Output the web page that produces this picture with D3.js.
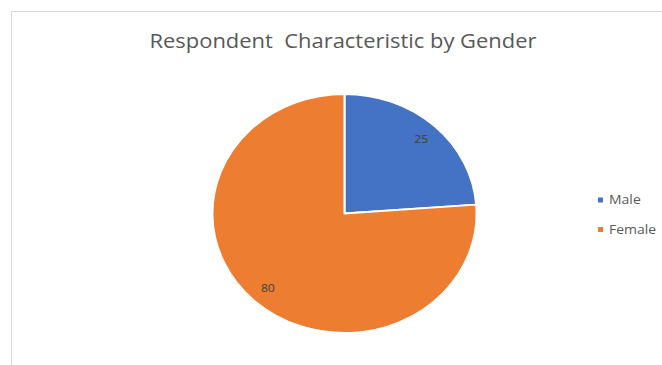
<!DOCTYPE html>
<html>
<head>
<meta charset="utf-8">
<script src="https://cdn.jsdelivr.net/npm/d3@7"></script>
<style>
  html, body { margin: 0; padding: 0; background: #ffffff; }
  svg { display: block; }
</style>
</head>
<body>
<svg id="chart" width="662" height="365"></svg>
<script>
const categories = ["Male", "Female"];
const values = [25, 80];
const colors = ["#4472C4", "#ED7D31"];
const title = "Respondent\u00A0 Characteristic by Gender";

const svg = d3.select("#chart");
const W = 662, H = 365;

// chart area border (cut off at right/bottom)
svg.append("rect")
  .attr("x", 11.5).attr("y", 11.5)
  .attr("width", W + 20).attr("height", H + 20)
  .attr("fill", "#ffffff")
  .attr("stroke", "#d9d9d9").attr("stroke-width", 1);

// title
svg.append("text")
  .attr("x", 343).attr("y", 48)
  .attr("text-anchor", "middle")
  .attr("font-family", "'Open Sans', sans-serif")
  .attr("font-size", 20)
  .attr("fill", "#595959")
  .attr("textLength", 387)
  .attr("lengthAdjust", "spacingAndGlyphs")
  .text(title);

const cx = 344.5, cy = 213.5, r = 119.5, sx = 1.105;
const data = categories.map((c, i) => ({ name: c, value: values[i], color: colors[i] }));
const pie = d3.pie().sort(null).value(d => d.value);
const arcs = pie(data);
const arc = d3.arc().innerRadius(0).outerRadius(r);
const labelArc = d3.arc().innerRadius(102).outerRadius(102);

const g = svg.append("g").attr("transform", `translate(${cx},${cy}) scale(${sx},1)`);
g.selectAll("path.slice")
  .data(arcs)
  .join("path")
  .attr("class", "slice")
  .attr("d", arc)
  .attr("fill", d => d.data.color)
  .attr("stroke", "#ffffff")
  .attr("stroke-width", 1.8)
  .attr("stroke-linejoin", "round");

// data labels
svg.append("g").selectAll("text")
  .data(arcs)
  .join("text")
  .attr("transform", d => `translate(${cx + labelArc.centroid(d)[0] * sx},${cy + labelArc.centroid(d)[1]}) scale(${sx},1)`)
  .attr("dy", "0.35em")
  .attr("text-anchor", "middle")
  .attr("font-family", "'Open Sans', sans-serif")
  .attr("font-size", 11)
  .attr("fill", "#404040")
  .text(d => d.data.value);

// legend
const legend = svg.append("g");
const ly = d3.scalePoint().domain(categories).range([200, 229.5]);
const items = legend.selectAll("g").data(data).join("g")
  .attr("transform", d => `translate(598,${ly(d.name)})`);
items.append("rect")
  .attr("x", 0).attr("y", -2.5).attr("width", 5).attr("height", 5)
  .attr("fill", d => d.color);
items.append("text")
  .attr("transform", `translate(11,0) scale(1.12,1)`)
  .attr("dy", "0.35em")
  .attr("font-family", "'Open Sans', sans-serif")
  .attr("font-size", 12.5)
  .attr("fill", "#595959")
  .text(d => d.name);
</script>
</body>
</html>
